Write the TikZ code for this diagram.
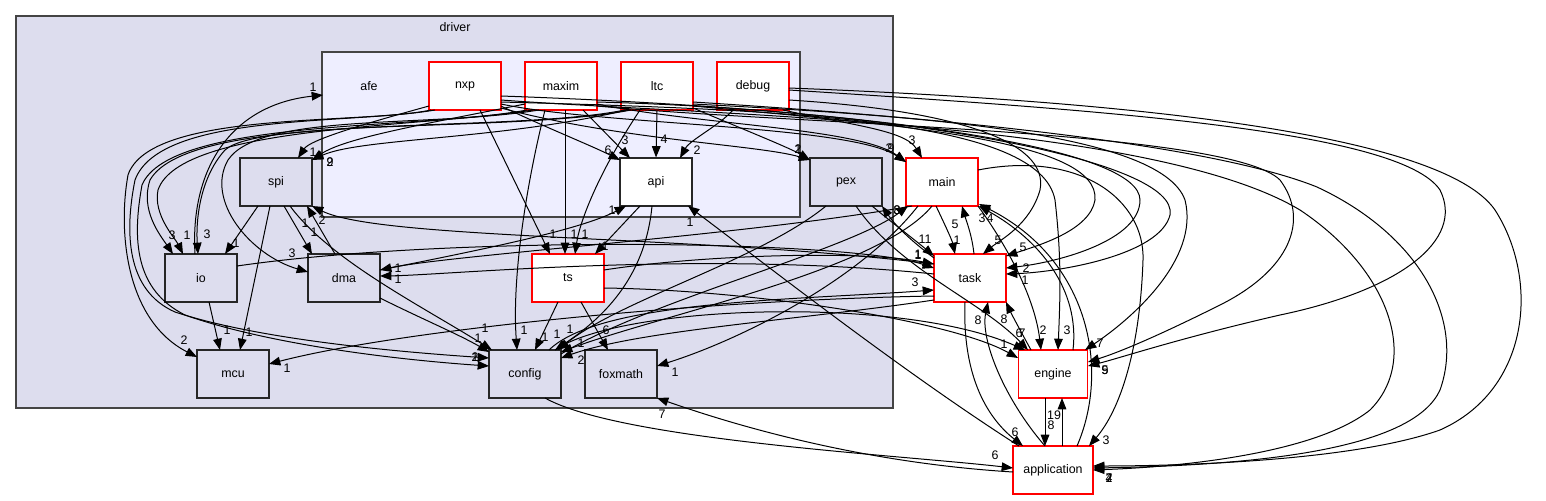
\documentclass[tikz,border=0pt]{standalone}
\usepackage{fontspec}
\setmainfont{Liberation Sans}
\usetikzlibrary{arrows.meta}
\definecolor{clsA}{HTML}{DDDDEE}
\definecolor{clsB}{HTML}{EEEEFF}
\definecolor{clsLine}{HTML}{444444}
\begin{document}
\begin{tikzpicture}[x=0.75pt,y=-0.75pt,
  txt/.style={font=\fontsize{9.3}{11}\selectfont},
  dirbox/.style={txt, draw=black!85, line width=0.8pt, fill=clsA, minimum width=54pt, minimum height=36pt, inner sep=0pt},
  dirred/.style={dirbox, draw=red, fill=white},
  dirwhite/.style={dirbox, fill=white},
  cluster/.style={draw=clsLine, line width=0.9pt},
  e/.style={draw=black, line width=0.75pt, -{Triangle[length=8.5pt,width=6.5pt]}},
  lbl/.style={txt, inner sep=0pt, pos=1}]
\useasboundingbox (0,0) rectangle (1546,500);
% clusters
\draw[cluster, fill=clsA] (16,16) rectangle (893,408);
\node[txt] (driverlbl) at (455,27) {driver};
\draw[cluster, fill=clsB] (322,52) rectangle (800,217);
\node[txt] (afe) at (369,86) {afe};
\coordinate (afeW) at (323,95);
% nodes
\node[dirred] (nxp) at (465,86) {nxp};
\node[dirred] (maxim) at (561,86) {maxim};
\node[dirred] (ltc) at (657,86) {ltc};
\node[dirred] (debug) at (753,86) {debug};
\node[dirbox] (spi) at (276,182) {spi};
\node[dirwhite] (api) at (656,182) {api};
\node[dirbox] (pex) at (846,182) {pex};
\node[dirred] (main) at (942,182) {main};
\node[dirbox] (io) at (201,278) {io};
\node[dirbox] (dma) at (344,278) {dma};
\node[dirred] (ts) at (568,278) {ts};
\node[dirred] (task) at (970,278) {task};
\node[dirbox] (mcu) at (233,374) {mcu};
\node[dirbox] (config) at (525,374) {config};
\node[dirbox] (foxmath) at (621,374) {foxmath};
\node[dirred, minimum width=52pt] (engine) at (1053,374) {engine};
\node[dirred, minimum width=60pt] (app) at (1053,470) {application};

% left group
\draw[e] ([shift={(-34,24)}]nxp.center) .. controls (360,125) and (150,110) .. (128,175) .. controls (118,230) and (125,320) .. ([shift={(-36,-17)}]mcu.center) node[lbl, shift={(-13,-17)}] {2};
\draw[e] ([shift={(-30,24)}]nxp.center) .. controls (350,125) and (160,112) .. (135,180) .. controls (125,230) and (125,290) .. (175,312) .. controls (260,340) and (400,352) .. ([shift={(-36,-16)}]config.center) node[lbl, shift={(-14,-1)}] {1};
\draw[e] ([shift={(-34,24)}]maxim.center) .. controls (420,130) and (170,118) .. (142,185) .. controls (132,240) and (135,290) .. (185,315) .. controls (270,345) and (400,360) .. ([shift={(-36,-8)}]config.center) node[lbl, shift={(-14,-9)}] {2};
\draw[e] ([shift={(-32,24)}]ltc.center) .. controls (500,135) and (190,110) .. (150,180) .. controls (140,210) and (160,235) .. ([shift={(-28,-24)}]io.center) node[lbl, shift={(-1,-19)}] {3};
\draw[e] ([shift={(-28,24)}]maxim.center) .. controls (420,128) and (180,125) .. (158,190) .. controls (153,215) and (175,238) .. ([shift={(-18,-24)}]io.center) node[lbl, shift={(4,-19)}] {1};
\draw[e] ([shift={(-26,24)}]ltc.center) .. controls (520,132) and (260,118) .. (225,150) .. controls (198,180) and (196,225) .. ([shift={(-3,-24)}]io.center) node[lbl, shift={(9,-20)}] {3};
\draw[e] ([shift={(-22,24)}]maxim.center) .. controls (430,128) and (260,112) .. (228,160) .. controls (205,200) and (250,255) .. ([shift={(-36,-6)}]dma.center) node[lbl, shift={(-16,-19)}] {3};
\draw[e] ([shift={(-6,-24)}]io.center) .. controls (190,170) and (230,105) .. (afeW) node[lbl, shift={(-10,-8)}] {1};
\draw[e] ([shift={(-36,20)}]nxp.center) .. controls (360,125) and (310,140) .. ([shift={(22,-24)}]spi.center) node[lbl, shift={(15,-6)}] {1};
\draw[e] ([shift={(-36,18)}]maxim.center) .. controls (420,125) and (345,138) .. ([shift={(36,-22)}]spi.center) node[lbl, shift={(18,2)}] {2};
\draw[e] ([shift={(-30,24)}]ltc.center) .. controls (500,140) and (360,138) .. ([shift={(36,-22)}]spi.center) node[lbl, shift={(18,2)}] {9};
% spi, io, dma
\draw[e] ([shift={(-18,24)}]spi.center) -- ([shift={(24,-24)}]io.center) node[lbl, shift={(11,-11)}] {1};
\draw[e] ([shift={(-6,24)}]spi.center) -- ([shift={(7,-24)}]mcu.center) node[lbl, shift={(9,-18)}] {1};
\draw[e] ([shift={(8,24)}]spi.center) -- ([shift={(-32,-24)}]dma.center) node[lbl, shift={(2,-22)}] {1};
\draw[e] ([shift={(-9,-24)}]dma.center) -- ([shift={(31,24)}]spi.center) node[lbl, shift={(-2,17)}] {1};
\draw[e] ([shift={(8,24)}]io.center) -- ([shift={(-13,-24)}]mcu.center) node[lbl, shift={(7,-20)}] {1};
\draw[e] ([shift={(-36,-14)}]task.center) .. controls (700,235) and (380,240) .. ([shift={(36,24)}]spi.center) node[lbl, shift={(10,14)}] {2};
\draw[e] ([shift={(14,24)}]spi.center) .. controls (330,260) and (420,305) .. ([shift={(-33,-24)}]config.center) node[lbl, shift={(-7,-22)}] {1};
\draw[e] ([shift={(36,20)}]dma.center) .. controls (420,318) and (460,335) .. ([shift={(-36,-22)}]config.center) node[lbl, shift={(-11,-14)}] {1};
% ts, api
\draw[e] ([shift={(15,24)}]nxp.center) -- ([shift={(-18,-24)}]ts.center) node[lbl, shift={(3,-20)}] {1};
\draw[e] ([shift={(4,24)}]maxim.center) -- ([shift={(-3,-24)}]ts.center) node[lbl, shift={(9,-20)}] {1};
\draw[e] ([shift={(-17,24)}]ltc.center) .. controls (600,170) and (580,220) .. ([shift={(7,-24)}]ts.center) node[lbl, shift={(10,-20)}] {1};
\draw[e] ([shift={(-16,24)}]api.center) -- ([shift={(27,-24)}]ts.center) node[lbl, shift={(10,-8)}] {1};
\draw[e] ([shift={(-10,24)}]ts.center) -- ([shift={(10,-24)}]config.center) node[lbl, shift={(10,-13)}] {1};
\draw[e] ([shift={(13,24)}]ts.center) -- ([shift={(-13,-24)}]foxmath.center) node[lbl, shift={(-2,-20)}] {6};
\draw[e] ([shift={(-16,24)}]maxim.center) .. controls (525,190) and (512,280) .. ([shift={(-8,-24)}]config.center) node[lbl, shift={(7,-20)}] {1};
\draw[e] ([shift={(-4,24)}]api.center) .. controls (645,280) and (600,320) .. ([shift={(30,-24)}]config.center) node[lbl, shift={(2,-16)}] {1};
\draw[e] ([shift={(36,-8)}]dma.center) .. controls (480,250) and (580,230) .. ([shift={(-30,24)}]api.center) node[lbl, shift={(-14,4)}] {1};
\draw[e] ([shift={(36,20)}]nxp.center) .. controls (540,125) and (590,145) .. ([shift={(-36,-22)}]api.center) node[lbl, shift={(-12,-10)}] {6};
\draw[e] ([shift={(22,24)}]maxim.center) -- ([shift={(-26,-24)}]api.center) node[lbl, shift={(-5,-18)}] {3};
\draw[e] (ltc.south) -- (api.north) node[lbl, shift={(8,-18)}] {4};
\draw[e] ([shift={(-20,24)}]debug.center) .. controls (720,125) and (690,140) .. ([shift={(24,-24)}]api.center) node[lbl, shift={(17,-8)}] {2};
% pex, main
\draw[e] ([shift={(36,22)}]nxp.center) .. controls (620,140) and (760,145) .. ([shift={(-36,-22)}]pex.center) node[lbl, shift={(-12,-11)}] {1};
\draw[e] ([shift={(36,22)}]ltc.center) .. controls (740,128) and (790,148) .. ([shift={(-36,-22)}]pex.center) node[lbl, shift={(-12,-11)}] {2};
\draw[e] ([shift={(36,18)}]nxp.center) .. controls (600,125) and (850,125) .. ([shift={(-36,-20)}]main.center) node[lbl, shift={(-17,-14)}] {2};
\draw[e] ([shift={(36,18)}]maxim.center) .. controls (700,125) and (860,128) .. ([shift={(-36,-20)}]main.center) node[lbl, shift={(-15,-14)}] {9};
\draw[e] ([shift={(30,24)}]debug.center) .. controls (850,125) and (905,130) .. ([shift={(-20,-24)}]main.center) node[lbl, shift={(-10,-18)}] {3};
\draw[e] ([shift={(-6,24)}]main.center) .. controls (945,225) and (952,240) .. ([shift={(-15,-24)}]task.center) node[lbl, shift={(0,-30)}] {5};
\draw[e] ([shift={(4,-24)}]task.center) .. controls (972,235) and (966,220) .. ([shift={(20,24)}]main.center) node[lbl, shift={(-5,34)}] {1};
\draw[e] ([shift={(26,24)}]pex.center) .. controls (895,225) and (915,240) .. ([shift={(-36,-22)}]task.center) node[lbl, shift={(-9,-17)}] {11};
\draw[e] ([shift={(36,-8)}]ts.center) .. controls (700,255) and (860,250) .. ([shift={(-36,-14)}]task.center) node[lbl, shift={(-16,-10)}] {1};
\draw[e] ([shift={(36,-12)}]io.center) .. controls (450,235) and (850,240) .. ([shift={(-36,-10)}]task.center) node[lbl, shift={(-16,-13)}] {1};
\draw[e] ([shift={(24,-24)}]config.center) .. controls (600,300) and (800,300) .. ([shift={(-36,12)}]task.center) node[lbl, shift={(-19,-8)}] {3};
\draw[e] ([shift={(-36,-20)}]task.center) .. controls (910,240) and (895,225) .. ([shift={(36,24)}]pex.center) node[lbl, shift={(15,4)}] {3};
\draw[e] ([shift={(36,-20)}]config.center) .. controls (650,300) and (850,250) .. ([shift={(-34,24)}]main.center) node[lbl, shift={(-11,4)}] {8};
\draw[e] ([shift={(-24,24)}]main.center) .. controls (860,280) and (740,340) .. ([shift={(36,-8)}]foxmath.center) node[lbl, shift={(18,6)}] {1};
\draw[e] ([shift={(-30,24)}]main.center) .. controls (750,235) and (450,255) .. ([shift={(36,-8)}]dma.center) node[lbl, shift={(18,-2)}] {1};
\draw[e] ([shift={(-36,-4)}]task.center) .. controls (700,250) and (450,275) .. ([shift={(36,-2)}]dma.center) node[lbl, shift={(18,3)}] {1};
\draw[e] ([shift={(-36,18)}]task.center) .. controls (700,300) and (400,330) .. ([shift={(36,-10)}]mcu.center) node[lbl, shift={(18,4)}] {1};
\draw[e] ([shift={(-36,22)}]task.center) .. controls (800,320) and (640,330) .. ([shift={(36,-16)}]config.center) node[lbl, shift={(20,2)}] {2};
\draw[e] ([shift={(-20,24)}]pex.center) .. controls (760,260) and (620,300) .. ([shift={(33,-24)}]config.center) node[lbl, shift={(12,-21)}] {1};
\draw[e] ([shift={(-10,24)}]main.center) .. controls (880,270) and (660,315) .. ([shift={(36,-22)}]config.center) node[lbl, shift={(20,-9)}] {1};
% engine
\draw[e] ([shift={(30,-24)}]config.center) .. controls (620,305) and (900,295) .. ([shift={(-28,-24)}]engine.center) node[lbl, shift={(-6,-17)}] {6};
\draw[e] ([shift={(10,24)}]pex.center) .. controls (900,270) and (980,300) .. ([shift={(-25,-24)}]engine.center) node[lbl, shift={(-6,-17)}] {7};
\draw[e] ([shift={(36,10)}]ts.center) .. controls (750,290) and (950,320) .. ([shift={(-35,-16)}]engine.center) node[lbl, shift={(-14,-14)}] {1};
\draw[e] ([shift={(36,24)}]main.center) .. controls (1010,250) and (1035,300) .. ([shift={(-12,-24)}]engine.center) node[lbl, shift={(2,-20)}] {2};
\draw[e] ([shift={(36,16)}]nxp.center) .. controls (800,110) and (1040,120) .. (1055,200) .. controls (1062,260) and (1060,300) .. ([shift={(5,-24)}]engine.center) node[lbl, shift={(9,-20)}] {3};
\draw[e] ([shift={(36,18)}]ltc.center) .. controls (900,115) and (1160,130) .. (1185,200) .. controls (1200,260) and (1130,320) .. ([shift={(32,-24)}]engine.center) node[lbl, shift={(15,-7)}] {7};
\draw[e] ([shift={(36,20)}]maxim.center) .. controls (800,125) and (1230,130) .. (1280,180) .. controls (1310,220) and (1290,270) .. (1220,305) .. controls (1160,335) and (1120,352) .. ([shift={(35,-12)}]engine.center) node[lbl, shift={(17,8)}] {5};
\draw[e] ([shift={(36,4)}]debug.center) .. controls (1100,110) and (1400,130) .. (1440,190) .. controls (1465,240) and (1400,290) .. (1280,315) .. controls (1180,338) and (1120,358) .. ([shift={(35,-8)}]engine.center) node[lbl, shift={(17,4)}] {9};
% application
\draw[e] ([shift={(36,2)}]debug.center) .. controls (1100,100) and (1440,130) .. (1495,210) .. controls (1540,280) and (1530,390) .. (1440,430) .. controls (1350,462) and (1170,466) .. ([shift={(40,-4)}]app.center) node[lbl, shift={(16,12)}] {7};
\draw[e] ([shift={(36,16)}]ltc.center) .. controls (900,115) and (1200,140) .. (1317,187) .. controls (1420,235) and (1465,320) .. (1440,390) .. controls (1415,445) and (1280,465) .. ([shift={(40,-2)}]app.center) node[lbl, shift={(16,10)}] {4};
\draw[e] ([shift={(36,14)}]nxp.center) .. controls (700,115) and (1150,120) .. (1300,210) .. controls (1390,270) and (1420,360) .. (1370,410) .. controls (1320,450) and (1200,466) .. ([shift={(40,0)}]app.center) node[lbl, shift={(16,8)}] {2};
\draw[e] ([shift={(36,-12)}]main.center) .. controls (1080,150) and (1145,200) .. (1143,260) .. controls (1140,350) and (1120,410) .. ([shift={(36,-24)}]app.center) node[lbl, shift={(17,-6)}] {3};
% task
\draw[e] ([shift={(36,14)}]debug.center) .. controls (950,110) and (1050,140) .. (1040,190) .. controls (1030,225) and (1000,240) .. ([shift={(13,-24)}]task.center) node[lbl, shift={(15,-14)}] {5};
\draw[e] ([shift={(36,20)}]ltc.center) .. controls (900,125) and (1100,140) .. (1095,200) .. controls (1090,230) and (1040,245) .. ([shift={(36,-22)}]task.center) node[lbl, shift={(17,-9)}] {5};
\draw[e] ([shift={(36,10)}]nxp.center) .. controls (900,110) and (1140,150) .. (1140,200) .. controls (1140,240) and (1060,262) .. ([shift={(36,-10)}]task.center) node[lbl, shift={(20,0)}] {2};
\draw[e] ([shift={(36,16)}]maxim.center) .. controls (900,110) and (1180,160) .. (1170,215) .. controls (1160,255) and (1060,272) .. ([shift={(36,-4)}]task.center) node[lbl, shift={(19,6)}] {1};
\draw[e] ([shift={(-8,-24)}]app.center) .. controls (1005,400) and (980,340) .. ([shift={(18,24)}]task.center) node[lbl, shift={(-10,18)}] {8};
\draw[e] ([shift={(-22,-24)}]engine.center) .. controls (1020,330) and (1012,315) .. ([shift={(36,24)}]task.center) node[lbl, shift={(-2,17)}] {8};
\draw[e] ([shift={(-5,24)}]task.center) .. controls (962,380) and (990,420) .. ([shift={(-30,-24)}]app.center) node[lbl, shift={(-8,-14)}] {6};
\draw[e] ([shift={(-8,24)}]engine.center) -- ([shift={(-8,-24)}]app.center) node[lbl, shift={(6,-21)}] {8};
\draw[e] ([shift={(9,-24)}]app.center) -- ([shift={(9,24)}]engine.center) node[lbl, shift={(-8,17)}] {19};
\draw[e] ([shift={(24,-24)}]app.center) .. controls (1110,370) and (1090,260) .. ([shift={(37,22)}]main.center) node[lbl, shift={(3,14)}] {3};
\draw[e] ([shift={(20,-24)}]engine.center) .. controls (1080,290) and (1040,240) .. ([shift={(37,24)}]main.center) node[lbl, shift={(11,12)}] {4};
\draw[e] ([shift={(-34,-24)}]app.center) .. controls (900,370) and (760,260) .. ([shift={(32,24)}]api.center) node[lbl, shift={(2,16)}] {1};
\draw[e] ([shift={(20,24)}]config.center) .. controls (620,440) and (900,455) .. ([shift={(-40,-2)}]app.center) node[lbl, shift={(-18,-13)}] {6};
\draw[e] ([shift={(-40,2)}]app.center) .. controls (850,462) and (720,420) .. ([shift={(36,24)}]foxmath.center) node[lbl, shift={(5,16)}] {7};
\end{tikzpicture}
\end{document}
